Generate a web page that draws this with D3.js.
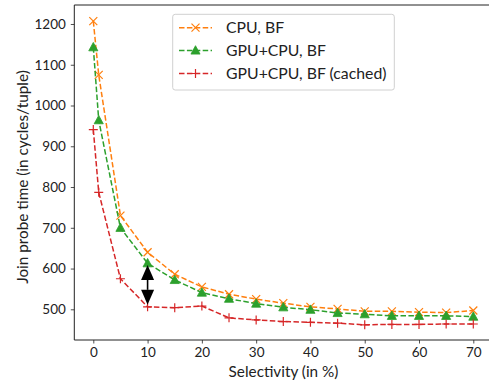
<!DOCTYPE html>
<html><head><meta charset="utf-8">
<script src="https://cdn.jsdelivr.net/npm/d3@7"></script>
<style>
html,body{margin:0;padding:0;background:#fff;}
svg{display:block;font-family:Lato,"Open Sans",sans-serif;}
</style></head>
<body><svg id="c" width="489" height="385"></svg>
<script>
const selectivity = [0, 1, 5, 10, 15, 20, 25, 30, 35, 40, 45, 50, 55, 60, 65, 70];
const cpuBF = [1207, 1075, 730, 640, 586, 555, 537, 525, 515, 506, 501, 495, 495, 493, 492, 497];
const gpuCpuBF = [1143, 964, 700, 613, 572, 541, 526, 514, 505, 499, 491, 488, 484, 484, 484, 482];
const gpuCpuBFCached = [941, 787, 575, 506, 504, 508, 479, 474, 470, 468, 466, 462, 463, 463, 464, 464];
const seriesNames = ["CPU, BF", "GPU+CPU, BF", "GPU+CPU, BF (cached)"];
const xTicks = [0, 10, 20, 30, 40, 50, 60, 70];
const yTicks = [500, 600, 700, 800, 900, 1000, 1100, 1200];
const arrowX = 10, arrowFrom = 609, arrowTo = 511;

const series = [
  {name: seriesNames[0], values: cpuBF, color: "#ff7f0e", marker: "x"},
  {name: seriesNames[1], values: gpuCpuBF, color: "#2ca02c", marker: "tri"},
  {name: seriesNames[2], values: gpuCpuBFCached, color: "#d62728", marker: "plus"}
];

const svg = d3.select("#c");
const L = 74.3, R = 492.3, T = 5, B = 340;
const x = d3.scaleLinear().domain([-3.5, 73.5]).range([L, R]);
const y = d3.scaleLinear().domain([424.7, 1246.6]).range([B, T]);

// axes
const fs = 13.5;
const xAxis = svg.append("g").attr("transform", `translate(0,${B})`)
  .call(d3.axisBottom(x).tickValues(xTicks).tickFormat(d3.format("d")).tickSize(3.5).tickPadding(4));
const yAxis = svg.append("g").attr("transform", `translate(${L},0)`)
  .call(d3.axisLeft(y).tickValues(yTicks).tickFormat(d3.format("d")).tickSize(3.5).tickPadding(5));
[xAxis, yAxis].forEach(a => {
  a.select(".domain").remove();
  a.selectAll("line").attr("stroke", "#222").attr("stroke-width", 0.8);
  a.selectAll("text").attr("font-size", fs).attr("fill", "#222").attr("font-family", "Lato,sans-serif");
});
// spines
svg.append("line").attr("x1", L).attr("x2", L).attr("y1", T).attr("y2", B).attr("stroke", "#222").attr("stroke-width", 1);
svg.append("line").attr("x1", L).attr("x2", 489).attr("y1", B).attr("y2", B).attr("stroke", "#222").attr("stroke-width", 1);
svg.append("line").attr("x1", L).attr("x2", 489).attr("y1", T).attr("y2", T).attr("stroke", "#222").attr("stroke-width", 1);

// labels
svg.append("text").attr("x", 283.5).attr("y", 377).attr("text-anchor", "middle")
  .attr("font-size", 15.3).attr("fill", "#222").text("Selectivity (in %)");
svg.append("text").attr("transform", "translate(28,177) rotate(-90)").attr("text-anchor", "middle")
  .attr("font-size", 15.3).attr("fill", "#222").text("Join probe time (in cycles/tuple)");

function drawMarker(g, type, cx, cy, color) {
  if (type === "x") {
    const s = 4;
    g.append("path").attr("d", `M${cx-s},${cy-s}L${cx+s},${cy+s}M${cx-s},${cy+s}L${cx+s},${cy-s}`)
      .attr("stroke", color).attr("stroke-width", 1.2).attr("fill", "none");
  } else if (type === "plus") {
    const s = 4.5;
    g.append("path").attr("d", `M${cx-s},${cy}L${cx+s},${cy}M${cx},${cy-s}L${cx},${cy+s}`)
      .attr("stroke", color).attr("stroke-width", 1.2).attr("fill", "none");
  } else {
    const s = 4.8;
    g.append("path").attr("d", `M${cx},${cy-s}L${cx+s*0.95},${cy+s*0.75}L${cx-s*0.95},${cy+s*0.75}Z`)
      .attr("fill", color).attr("stroke", color).attr("stroke-width", 0.8);
  }
}

const line = d3.line().x(d => x(d[0])).y(d => y(d[1]));
const plot = svg.append("g");
series.forEach(s => {
  const pts = selectivity.map((v, i) => [v, s.values[i]]);
  plot.append("path").attr("d", line(pts)).attr("fill", "none").attr("stroke", s.color)
    .attr("stroke-width", 1.5).attr("stroke-dasharray", "5.5,2.4");
  const mg = plot.append("g");
  pts.forEach(p => drawMarker(mg, s.marker, x(p[0]), y(p[1]), s.color));
});

// double-headed arrow
const ax = x(arrowX), ay1 = y(arrowFrom), ay2 = y(arrowTo);
const hw = 6.5, hl = 15;
svg.append("line").attr("x1", ax).attr("x2", ax).attr("y1", ay1 + hl).attr("y2", ay2 - hl)
  .attr("stroke", "#000").attr("stroke-width", 1.6);
svg.append("path").attr("d", `M${ax},${ay1}L${ax+hw},${ay1+hl}L${ax-hw},${ay1+hl}Z`).attr("fill", "#000");
svg.append("path").attr("d", `M${ax},${ay2}L${ax+hw},${ay2-hl}L${ax-hw},${ay2-hl}Z`).attr("fill", "#000");

// legend
const lg = svg.append("g");
lg.append("rect").attr("x", 172.7).attr("y", 14.3).attr("width", 221.6).attr("height", 75.7)
  .attr("rx", 2.5).attr("fill", "#fff").attr("fill-opacity", 0.8).attr("stroke", "#d0d0d0").attr("stroke-width", 1);
const rowY = [27.7, 50.5, 73.5];
series.forEach((s, i) => {
  const cy = rowY[i];
  lg.append("line").attr("x1", 179).attr("x2", 212).attr("y1", cy).attr("y2", cy)
    .attr("stroke", s.color).attr("stroke-width", 1.5).attr("stroke-dasharray", "5.5,2.4");
  drawMarker(lg, s.marker, 195.5, cy, s.color);
  lg.append("text").attr("x", 226).attr("y", cy + 5.5).attr("font-size", 15.8).attr("fill", "#222").text(s.name);
});
</script></body></html>
